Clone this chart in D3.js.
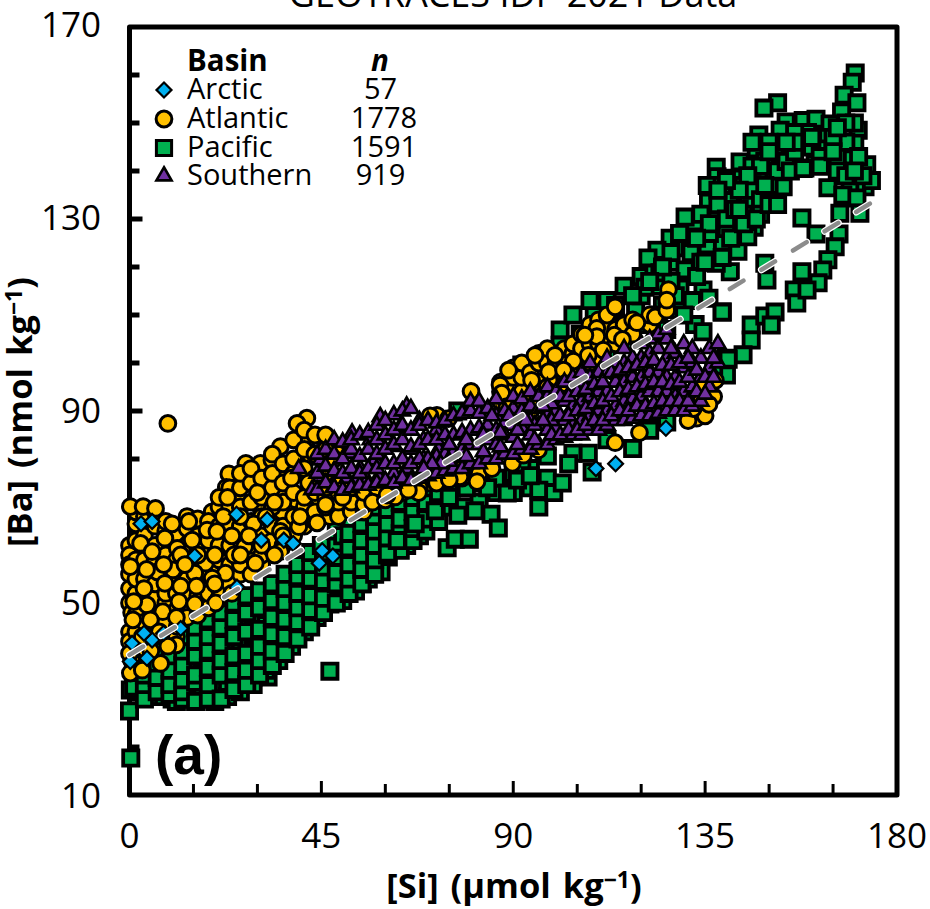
<!DOCTYPE html>
<html lang="en">
<head>
<meta charset="utf-8">
<script src="https://d3js.org/d3.v7.min.js"></script>
<style>
  html, body { margin: 0; padding: 0; background: #fff; }
  svg { display: block; }
  text { font-family: "Open Sans", sans-serif; fill: #000; }
</style>
</head>
<body>
<script>

// values, [Si, Ba]
const pacific = [
  [0,27.5],[0.3,17.7],[0.2,31.9],[4,31.9],[10,30],[15,31],[21,33],[29,34.6],[32.5,34.6],[15.5,37.5],[10,34.6],[19.5,36.7],
  [33.5,41.4],[39,45],[47,49.8],[43,53.4],[54.6,54],[55.8,57.5],[60.7,59.6],[47,35.8],
  [2,34],[2,37],[5,30.5],[5,33],[5,36.5],[8,30.5],[8,33.5],[8,36],[11,29.5],[11,32],[11,38],
  [14,30],[14,33],[14,40],[17,30],[17,32],[17,35],[17,38.5],[17,42],[20,29.5],[20,32.5],[20,39.5],[20,43],
  [23,30.5],[23,33.5],[23,36],[23,40],[23,44],[26,31.5],[26,34.5],[26,38],[26,42],[26,46],
  [29,33],[29,36.5],[29,40],[29,43.5],[29,47.5],[32,36],[32,38.5],[32,42],[32,45.5],[32,49],
  [35,38],[35,44.5],[35,48],[35,51],[38,41],[38,48.5],[38,52],[41,44],[41,47.5],[41,50.5],[41,54],
  [44,47],[44,50],[44,56],[47,52.5],[47,56],[47,59],[50,50.5],[50,53.5],[50,57],[50,60],
  [53,52.5],[53,56],[53,59.5],[53,62.5],[56,55],[56,61],[56,64],[59,56.5],[59,60],[59,63],[59,66],
  [62,62],[62,65],[62,68],[65,62],[65,67],[65,70],[68,64],[68,66.5],[68,69.5],[68,72.5],[71,68],[71,72],[71,75],
  [1,32.5],[1,35.5],[1,38],[3.5,30],[3.5,33],[3.5,35],[3.5,38],[6.5,31.5],[6.5,34.5],[6.5,37.5],[6.5,40],
  [9.5,31],[9.5,33],[9.5,36],[9.5,39],[9.5,42],[12.5,30],[12.5,31.5],[12.5,34],[12.5,37],[12.5,40],[12.5,43],
  [15.5,29.5],[15.5,33.5],[15.5,35],[15.5,39],[15.5,42],[15.5,45],[18.5,30],[18.5,33],[18.5,36.5],[18.5,40],[18.5,43],[18.5,46.5],
  [21.5,30],[21.5,35],[21.5,38],[21.5,41.5],[21.5,45],[21.5,48],[24.5,32],[24.5,35.5],[24.5,39],[24.5,43],[24.5,46.5],[24.5,50],
  [27.5,33],[27.5,36],[27.5,39.5],[27.5,44],[27.5,48],[27.5,51.5],[30.5,35],[30.5,38],[30.5,41],[30.5,44.5],[30.5,49],[30.5,52.5],
  [33.5,37],[33.5,40],[33.5,43.5],[33.5,47],[33.5,50.5],[33.5,54],[36.5,39.5],[36.5,43],[36.5,46.5],[36.5,50],[36.5,53],[36.5,56],
  [39.5,42.5],[39.5,46],[39.5,49],[39.5,52],[39.5,55.5],[39.5,58],[42.5,45],[42.5,48.5],[42.5,51.5],[42.5,55],[42.5,58],[42.5,60.5],
  [45.5,48],[45.5,51],[45.5,54.5],[45.5,57.5],[45.5,60.5],[45,62],[48.5,50],[48.5,54],[48.5,56.5],[48.5,59.5],[48.5,62.5],[48.5,65],[50,64],[52,66],
  [51.5,52],[51.5,55],[51.5,58],[51.5,61.5],[51.5,64.5],[54.5,54],[54.5,57],[54.5,60],[54.5,63],[54.5,66.5],[54.5,69],
  [57.5,56],[57.5,59],[57.5,62],[57.5,65],[57.5,68],[57.5,70],[60.5,60],[60.5,63.5],[60.5,66.5],[60.5,69.5],[60.5,72],
  [63.5,61],[63.5,64.5],[63.5,67.5],[63.5,71],[63.5,74],[66.5,63],[66.5,65.5],[66.5,69],[66.5,72],[66.5,75],
  [69.5,65],[69.5,67.5],[69.5,71],[69.5,74],[72.5,67],[72.5,70],[72.5,73],[72.5,77],
  [75.5,70],[75.5,74],[75.5,77],[78.5,70],[78.5,74],[78.5,78],[82,71],[82,75],[82,78],[86,73],[86,76],[90,73],[90,77],[94,74],[94,78],[98,76],
  [60.5,60.4],[62.8,63],[67,66.5],[71.7,69.2],[74.5,61.5],[76.4,63.3],[79.7,63.3],[77,68.3],[81,69.2],[84.8,68.5],[86.5,65.6],
  [88.6,72.9],[96,70],[96,73.5],[99.5,73],[101.5,75],[91,75.6],[104,81.2],[107.6,81.2],[98,80.6],[118,82.2],[108.5,77.3],[126,87.7],
  [75,72],[79,74],[84,74],[92,79],[94,76.5],[103,79],[112,84],[122,86],
  [101,106.9],[101,103.7],[105.7,106],[77,90],[92,99.6],[109,110.4],[113.6,109.4],[118.7,111.4],[132.6,108],[139,110.6],[140,101],[140,97.5],
  [104,110],[108,113],[112,113],[116,116],[120,118],[123,120],[112,106],[116,108],[120,114],[124,116],[127,121],[128,124],[125,112],[129,111],
  [170.2,160.4],[169.5,158.5],[167.6,155.8],[170.6,154.2],[167,152.3],[152,154.2],[148.8,153.1],[154,150.2],[158,150.5],[161,150.8],[164.3,149.8],
  [170.9,148.5],[147.6,147.5],[152.6,148.5],[152,145.8],[157,146.5],[163.8,147],[170.1,145.8],[147,144.6],[155.9,142.9],[163.5,144.6],[168.3,142.5],
  [172.9,141.3],[160.8,141.5],[158.4,140.6],[151.4,143.3],[143.2,141.9],[137.6,140.8],[142,138.5],[147.6,138.5],[137.8,138.8],[153,139.8],
  [135.5,137],[135.8,133.5],[145,133.5],[149.5,134.6],[140.9,134.6],[153.3,136.7],[163.8,136.5],[169,137.5],[172.5,136.7],[174,138],[167.3,135],
  [170.6,134.4],[171.3,131.2],[166.6,131.2],[157.7,130.2],[161,126.9],[166.4,126.9],[165.5,124.2],[163.8,121.5],[157.7,119],[162.6,119.4],
  [161.5,116.7],[155.9,115.2],[156.5,112.5],[158.9,115.2],[149,120.8],[149.5,117.3],[140.9,119],[137.6,120.8],[142.7,123.3],[131.7,123],[131.7,126.9],
  [139,125.2],[146.5,128.3],[137.8,129.8],[132.6,129.4],[142.5,128],[145,126.3],[135.5,124.6],[130.3,130.4],[126.8,126],[123.7,123.5],[121.6,121.9],
  [124.4,118.8],[130.3,119.4],[120.9,115.8],[129.1,115.6],[134.5,115.2],[135.9,113.5],[139,110.6],[132.6,108],[134.5,106.5],[145.8,107.9],[145.8,104.8],
  [149,109.8],[151.4,110.6],[150.5,107.9],[143.9,101.7],[140.4,100.8],[137,98.5],
  [140,131],[144,137],[149,142],[146,141],[139,137],[134,121],[127,117],[133,118],[140,128],[136,127],
  [134,131],[136,129],[138,133],[140,130],[142,132],[144,131],[146,136],[148,134],[150,137],[152,140],[154,142],[156,144],[160,145],[162,143],[166,143],
  [168,146],[165,147],[159,148],[156,148],[150,146],[148,141],[145,139],[143,136],[140,138],[138,136],[133,126],[129,127],[127,123],[125,120],[122,117],
  [118,114],[114,112],[110,108],[106,103],[103,101],[104,98],[108,100],[112,102],[116,104],[120,108],[124,110],[128,114],[132,113],[130,110],[126,107],
  [135,121],[139,122],[141,126],[144,129],[148,131],[143,132],[147,130],[150,133],[152,133],[149,137],[155,140],[158,140.5],[162,141],[166,140],
  [165,144],[172,139],[171,143],[168,139],[170,140],[170,150],[168,150],[166,149],[160,147],[156,146],[154,146],[150,144],[146,146]
];

const atlantic = [
  [0,62],[0,60],[0,58],[0,56],[0,50],[0.5,48],[0,44],[0,42],[0.5,38],[1,36],[0,53],[0,39.5],[0.2,35.4],
  [9,87.4],[41.6,88.5],[39.3,87.4],[42,84.3],[35.4,82.6],[46.3,83.6],[42.4,80.8],[30.7,79.1],[33.4,79.8],[27.3,79.1],[23.3,76.9],[28.4,76.9],[35.4,77],
  [32.7,75.3],[22.7,74.1],[35.4,73.6],[25.6,71.8],[38.9,71.5],[44.6,71.1],[51,72.2],[54.7,71.5],[19.4,69],[30.7,70],[35.8,69],[41.6,69.7],
  [1.5,44],[1.5,47.5],[1.5,52],[1.5,55],[1.5,59],[1.5,63],[1.5,66.5],[1.5,69],[3.5,40.5],[3.5,46],[3.5,51.5],[3.5,55],[3.5,59],[3.5,64],[3.5,68],
  [6,43],[6,47],[6,51],[6,54],[6,59],[6,62],[6,66],[6,69],[8.5,46],[8.5,50],[8.5,52],[8.5,56],[8.5,60],[8.5,65],[8.5,67],
  [11,43],[11,48.5],[11,52],[11,55],[11,59],[11,63],[11,64.5],[13.5,47],[13.5,51.5],[13.5,55],[13.5,58],[13.5,62],[13.5,65.5],[13.5,68],
  [16,47.5],[16,51.5],[16,55],[16,57],[16,61],[16,64],[16,67.5],[18.5,49],[18.5,52],[18.5,56],[18.5,60],[18.5,63],[18.5,67],
  [21,51],[21,53],[21,57],[21,59],[21,62],[21,66],[21,70],[21,72],[23.5,54],[23.5,58],[23.5,62],[23.5,66],[23.5,70],[23.5,74],
  [26,56],[26,58],[26,63],[26,66],[26,70],[26,74],[26,77],[28.5,56],[28.5,60],[28.5,62],[28.5,67],[28.5,71],[28.5,75],[28.5,78],
  [31,58],[31,60],[31,64],[31,68],[31,72],[31,76],[33.5,61],[33.5,63],[33.5,66],[33.5,70],[33.5,74],[33.5,77],[33.5,81],
  [36,62],[36,66],[36,71],[36,75],[36,79],[38.5,64],[38.5,68],[38.5,73],[38.5,77],[38.5,80],[38.5,84],
  [41,66],[41,70],[41,72],[41,78],[41,82],[41,86],[43.5,67],[43.5,69],[43.5,73],[43.5,76],[43.5,81],[43.5,85],
  [47,68],[49,68],[52,69],[55,69],
  [46,70],[46,72],[46,79],[46,82],[46,85],[49,71],[49,73],[49,75],[49,81],[52,71],[52,74],[55,70.5],[55,73],[58,72],[58,74],[62,73],[62,74],[66,74],[70,75],[74,76],[78,76],[78,78],[82,77],[85,78],
  [0.2,70.1],[3.2,70.1],[6.1,69.7],[13.9,67],[10,66.5],[18.2,65.2],[29.1,66.5],[44,66.7],[39.7,65.9],[35.4,64.9],[8.3,63.5],[2.6,62.4],[14.7,63.1],
  [20.5,64.9],[27,61.7],[5.3,60.7],[11.2,61.4],[35.4,60.7],[24.5,60],[29.5,58.3],[0.2,57.6],[10.2,56.9],[6.5,56.5],[17.8,58.3],[22.5,56.2],[15.3,56.2],
  [19.4,55.2],[8.3,54.1],[12,53.5],[15.7,53.5],[3.4,53],[4.1,49.6],[1,50.3],[11.6,50.3],[15.3,49.8],[7.8,48.2],[0.8,46.5],[20.2,50],[4.9,46.5],
  [11,41.3],[7.3,37.4],[11.2,45.1],
  [12,60],[16,60],[20,60],[24,64],[28,64],[22,68],[26,68],[23,72],[30,73],[34,71],[38,76],[42,75],[46,77],[48,80],[46,74],[50,72],[40,68],[32,68],
  [26,60],[31,62],[36,64],[34,60],[8,58],[13,58],[4,57],[20,54],[24,52],[11,47],[7,44],[3,43],[5,40],[3,36],[9,41],
  [57,71],[60,71.5],[64,73],[68,74],[72,75],[76,76],[46,70.5],
  [87,92],[87,94],[87,96],[90,92],[90,95],[90,97],[90,99],[92,94],[92,97],[92,100],[94,90],[94,98],[96,92],[96,96],[96,100],[96,102],[98,95],[98,100],[98,103],
  [100,97],[100,100],[102,97],[102,100],[102,103],[104,98],[104,102],[104,104],[106,100],[106,103],[106,106],[108,100],[108,104],[108,108],
  [110,101],[110,104],[110,109],[112,104],[112,107],[112,110],[114,104],[114,107],[116,106],[116,108],[118,106],[118,109],[122,108],[122,110],
  [131,90],[133,88.5],[135,89],[137,93],[134,92],[131,88],
  [80.1,94.1],[72.1,89.1],[74.8,88.4],[70.5,89],[88.9,98.5],[95.1,101.6],[99.8,101.6],[98.3,98.2],[94.3,96.4],[86.9,95.4],[87.3,93.7],[94.3,92.3],[88.5,90.9],
  [104.1,100.4],[101.8,98.5],[107.6,101.6],[109.6,107.2],[109.6,105.5],[106.8,105.8],[113.7,105.8],[115.6,104.9],[119,108.4],[123.3,109.6],[113.9,111.7],
  [126,112.4],[126,111],[111.1,102.7],[113.5,98.2],[104.5,95],[102.2,95.7],[137.2,96.4],[133.8,94.7],[135.9,91.4],[132.2,90.5],[113.9,83.4],[119.6,85.5],
  [77.5,76.3],[75,75.7],[81.5,75.3],[89.8,79.1],[67.8,73],[62.3,72.1],[65.4,73.5],[60.4,72.5],[92.4,80.8],[95.9,81.9],
  [126.4,115.3],[126,113.1],[137.4,96.4],[133.9,95]
];

const southern = [
  [39.7,78],[44.8,79.8],[52.2,85.4],[58.8,88.8],[51.4,81.2],[56.5,84],[62,89.2],[47.9,77.4],[54.1,78],[57.6,79.8],[61.6,82.6],[42.8,73.6],[47.9,74.2],
  [44.8,76.3],[53,75.3],[58.4,76.3],[62,77],[55.7,75.6],[51,76],
  [65,91],[63,86],[66,82],[65,78],[64,75.5],[68,88],[69,84],[69,80],[68,76.5],[72,86],[72.5,82],[72,78],
  [44,73.5],[44,77],[44,81],[46,75],[46,78.5],[46,82],[48,74],[48,77.5],[48,81],[48,84],[50,73.5],[50,77],[50,80],[50,83.5],
  [52,74],[52,78],[52,82],[52,84],[54,74.5],[54,77],[54,80.5],[54,85],[56,74.5],[56,78],[56,82],[56,85.5],
  [58,75],[58,78],[58,81],[58,84],[58,87],[60,75.5],[60,79],[60,82],[60,85],[60,88],[62,75],[62,79],[62,83],[62,86],
  [64,76],[64,80],[64,84],[64,87],[64,90],[66,75.5],[66,79],[66,82.5],[66,86],[66,90.5],[68,76],[68,80],[68,83],[68,87],
  [70,76.5],[70,80],[70,84],[70,88],[72,77],[72,80.5],[72,84],[72,87.5],[74,77.5],[74,81],[74,85],[74,88],
  [76,78],[76,81.5],[76,85],[76,89],[78,78],[78,82],[78,85.5],[78,89.5],[80,79],[80,83],[80,86],[80,90],[80,92],
  [82,79],[82,83],[82,86.5],[82,89.5],[82,92],[84,80],[84,84],[84,87],[84,90.5],[86,80],[86,83],[86,86],[86,89],[86,92.5],
  [88,81],[88,85],[88,87.5],[88,90],[90,81],[90,84.5],[90,87],[90,90.5],[90,93],[92,82],[92,86.5],[92,90],[92,92.5],
  [94,82],[94,85],[94,88],[94,91],[94,94],[96,83],[96,87],[96,90.5],[96,93],[98,83],[98,86],[98,89],[98,93],[98,95],
  [100,84],[100,86.5],[100,90],[100,94],[102,84.5],[102,88],[102,92],[102,96],[104,85],[104,87],[104,91],[104,95],[104,97],
  [106,85],[106,88],[106,92],[106,96],[106,98],[108,86],[108,89],[108,93],[108,97],[108,100],[110,86],[110,90],[110,94],[110,98],
  [112,87],[112,90],[112,94],[112,98],[112,101],[114,88],[114,91],[114,96],[114,100],[116,88],[116,92],[116,96],[116,100],[116,103],
  [118,88.5],[118,92.5],[118,97],[118,101],[120,89],[120,93],[120,97],[120,101],[120,104],[122,89],[122,94],[122,98],[122,102],[122,105],
  [124,89.5],[124,94],[124,98],[124,103],[124,106],[126,90],[126,94],[126,97],[126,101],[126,105],[126,107],[128,90],[128,93],[128,97],[128,102],
  [130,90],[130,94],[130,99],[130,104],[132,91],[132,95],[132,100],[132,103],[134,92],[134,97],[134,101],[136,95],[136,99],[136,103],[138,100],[138,104],
  [99,85],[99,88],[99,91.5],[101,85],[101,89],[101,93],[103,86],[103,89],[103,93],[105,86],[105,90],[105,94],[107,87],[107,90.5],[107,94.5],
  [109,88],[109,91.5],[109,95.5],[111,88],[111,92],[111,96],[113,89],[113,93],[113,98],[115,90],[115,94],[115,98.5],[117,90],[117,94.5],[117,99],
  [119,91],[119,95],[119,99.5],[121,91],[121,95.5],[121,100],[123,91.5],[123,96],[123,100.5],[125,92],[125,96],[125,99.5],[127,92],[127,95.5],[127,99.5],[127,103],
  [129,92],[129,96],[129,100],[131,92],[131,97],[131,101],[133,94],[133,98.5],[135,97],[135,93.5],[137,97],[137,101],
  [75,79.5],[75,83],[79,80.5],[79,84],[83,81.5],[83,85],[87,82.5],[87,85.5],[91,83],[91,86],[95,84],[95,87],[85,89],[89,89],[93,88],[97,88],[97,91],[73,79],[71,79],[69,78]
];

const arctic = [
  [2.7,66.5],[5.3,67],[15.3,59.8],[25.1,68.5],[32.3,67.4],[30.9,63.1],[36.2,63.1],[38.4,62.4],[45.2,60.9],[47.7,59.8],[44.5,58.3],[25.2,53.3],
  [12,44.7],[5.3,42.3],[8,43.7],[0.6,41.6],[4.1,38.5],[0.2,37.8],[3.4,43.7],[109.4,78],[114,79],[125.8,86.4]
];

const lineSi = [0, 175.5];
const lineBa = [39.2, 134.2];

const xTicks = [0, 15, 30, 45, 60, 75, 90, 105, 120, 135, 150, 165, 180];
const yTicks = [10, 20, 30, 40, 50, 60, 70, 80, 90, 100, 110, 120, 130, 140, 150, 160, 170];
const xLabels = [0, 45, 90, 135, 180];
const yLabels = [10, 50, 90, 130, 170];

const basins = ['Arctic', 'Atlantic', 'Pacific', 'Southern'];
const counts = [57, 1778, 1591, 919];

const width = 930, height = 909;
const x = d3.scaleLinear().domain([0, 180]).range([129.5, 897]);
const y = d3.scaleLinear().domain([10, 170]).range([795, 27]);

const svg = d3.select('body').append('svg').attr('width', width).attr('height', height);

const marks = {
  Arctic:   {fill: '#00b0f0', sw: 2.2, rot: 45, path: d3.symbol(d3.symbolSquare, 112)()},
  Atlantic: {fill: '#ffc000', sw: 3,   rot: 0,  path: d3.symbol(d3.symbolCircle, 195)()},
  Pacific:  {fill: '#00b050', sw: 3.8, rot: 0,  path: d3.symbol(d3.symbolSquare, 231)()},
  Southern: {fill: '#7030a0', sw: 2.6, rot: 0,  path: d3.symbol(d3.symbolTriangle, 100)()}
};

function drawPoints(data, name){
  const m = marks[name];
  svg.append('g').selectAll('path')
    .data(data)
    .enter().append('path')
    .attr('d', m.path)
    .attr('fill', m.fill)
    .attr('stroke', '#000')
    .attr('stroke-width', m.sw)
    .attr('transform', d => 'translate(' + x(d[0]) + ',' + y(d[1]) + ') rotate(' + m.rot + ')');
}

// ticks and frame
const frame = svg.append('g').attr('stroke', '#000').attr('fill', 'none');
frame.selectAll('.xt').data(xTicks.slice(1, -1)).enter().append('line')
  .attr('x1', d => x(d)).attr('x2', d => x(d))
  .attr('y1', y(10))
  .attr('y2', d => y(10) - (xLabels.includes(d) ? 14 : 11))
  .attr('stroke-width', 3);
frame.selectAll('.yt').data(yTicks.slice(1, -1)).enter().append('line')
  .attr('y1', d => y(d)).attr('y2', d => y(d))
  .attr('x1', x(0))
  .attr('x2', d => x(0) + (yLabels.includes(d) ? 13 : 10))
  .attr('stroke-width', 5);
frame.append('rect')
  .attr('x', x(0)).attr('y', y(170))
  .attr('width', x(180) - x(0)).attr('height', y(10) - y(170))
  .attr('stroke-width', 5).attr('stroke-linejoin', 'round');

drawPoints(pacific, 'Pacific');
drawPoints(atlantic, 'Atlantic');
drawPoints(southern, 'Southern');
drawPoints(arctic, 'Arctic');

// regression line
const reg = d3.line().x(d => x(d[0])).y(d => y(d[1]));
const regData = lineSi.map((s, i) => [s, lineBa[i]]);
svg.append('path').attr('d', reg(regData)).attr('fill', 'none')
  .attr('stroke', '#fff').attr('stroke-width', 7).attr('stroke-linecap', 'round').attr('stroke-dasharray', '16 21');
svg.append('path').attr('d', reg(regData)).attr('fill', 'none')
  .attr('stroke', '#8c8c8c').attr('stroke-width', 4.5).attr('stroke-linecap', 'round').attr('stroke-dasharray', '16 21');

// tick labels
svg.selectAll('.xl').data(xLabels).enter().append('text')
  .attr('x', d => x(d)).attr('y', 848)
  .attr('text-anchor', 'middle').attr('font-size', 35)
  .text(d => d);
svg.selectAll('.yl').data(yLabels).enter().append('text')
  .attr('x', 101).attr('y', d => y(d) + 10 + (170 - d) / 160 * 3)
  .attr('text-anchor', 'end').attr('font-size', 35)
  .text(d => d);

// titles
svg.append('text').attr('x', 513).attr('y', 7)
  .attr('text-anchor', 'middle').attr('font-size', 36)
  .text('GEOTRACES IDP 2021 Data');

const xTitle = svg.append('text').attr('x', 514).attr('y', 898)
  .attr('text-anchor', 'middle').attr('font-size', 34.5).attr('font-weight', 700).attr('word-spacing', 3);
xTitle.append('tspan').text('[Si] (µmol kg');
xTitle.append('tspan').attr('dy', -10).attr('font-size', 23).text('−1');
xTitle.append('tspan').attr('dy', 10).text(')');

const yTitle = svg.append('text').attr('transform', 'translate(32,412) rotate(-90)')
  .attr('text-anchor', 'middle').attr('font-size', 34.5).attr('font-weight', 700).attr('word-spacing', 3);
yTitle.append('tspan').text('[Ba] (nmol kg');
yTitle.append('tspan').attr('dy', -10).attr('font-size', 23).text('−1');
yTitle.append('tspan').attr('dy', 10).text(')');

svg.append('text').attr('x', 155).attr('y', 774)
  .style('font-family', '"Liberation Sans", Arial, sans-serif')
  .attr('font-size', 55).attr('font-weight', 700)
  .text('(a)');

// legend
svg.append('text').attr('x', 187).attr('y', 71).attr('font-size', 29.5).attr('font-weight', 700).text('Basin');
svg.append('text').attr('x', 380).attr('y', 71).attr('text-anchor', 'middle')
  .attr('font-size', 29.5).attr('font-weight', 700).attr('font-style', 'italic').text('n');

const legendY = [99, 128, 157, 185];
basins.forEach((b, i) => {
  const m = marks[b];
  svg.append('path').attr('d', m.path)
    .attr('fill', m.fill).attr('stroke', '#000').attr('stroke-width', b === 'Pacific' ? 3 : m.sw)
    .attr('transform', 'translate(164,' + (legendY[i] - 9) + ') rotate(' + m.rot + ')');
  svg.append('text').attr('x', 187).attr('y', legendY[i]).attr('font-size', 29).text(b);
  svg.append('text').attr('x', counts[i] > 1000 ? 384 : 380.5).attr('y', legendY[i])
    .attr('text-anchor', 'middle').attr('font-size', 29).text(counts[i]);
});

</script>
</body>
</html>
